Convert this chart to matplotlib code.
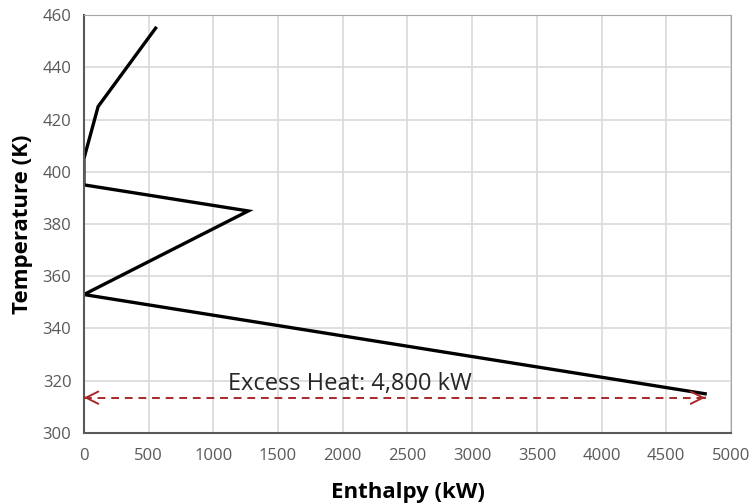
import matplotlib.pyplot as plt

# Grand composite curve data
enthalpy = [554, 110, 0, 0, 1270, 0, 4800]
temperature = [455, 425, 405, 395, 385, 353, 315]

excess_heat = 4800
arrow_temp = 313.5
label_text = "Excess Heat: 4,800 kW"

plt.rcParams['font.family'] = ['Open Sans', 'DejaVu Sans']

fig = plt.figure(figsize=(7.49, 5.04), dpi=100)
ax = fig.add_axes([0.112, 0.141, 0.864, 0.829])

ax.plot(enthalpy, temperature, color='black', linewidth=2.4, solid_joinstyle='miter')

# dashed double arrow: dashed shaft + solid open heads
red = '#a8282a'
ax.plot([0, excess_heat], [arrow_temp, arrow_temp], color=red,
        linestyle=(0, (4, 3)), linewidth=1.4)
for tip, tail in [(0, 1), (excess_heat, excess_heat - 1)]:
    ax.annotate('', xy=(tip, arrow_temp), xytext=(tail, arrow_temp),
                arrowprops=dict(arrowstyle='->', color=red, linewidth=1.4,
                                mutation_scale=22, shrinkA=0, shrinkB=0))
ax.text(1110, 314.3, label_text, fontsize=17, color='#262626', va='bottom')

ax.set_xlim(0, 5000)
ax.set_ylim(300, 460)
ax.set_xticks(range(0, 5001, 500))
ax.set_yticks(range(300, 461, 20))
ax.grid(True, color='#d9d9d9', linewidth=1.2)
ax.set_axisbelow(True)
ax.tick_params(length=0, labelsize=12, labelcolor='#595959')
ax.tick_params(axis='x', pad=11)
ax.tick_params(axis='y', pad=9)

for side in ['top', 'right']:
    ax.spines[side].set_color('#a6a6a6')
for side in ['left', 'bottom']:
    ax.spines[side].set_color('#595959')
    ax.spines[side].set_linewidth(1.5)

ax.set_xlabel("Enthalpy (kW)", fontsize=16, fontweight='bold', labelpad=13)
ax.set_ylabel("Temperature (K)", fontsize=16, fontweight='bold', labelpad=7)

plt.savefig("out.png", dpi=100)
